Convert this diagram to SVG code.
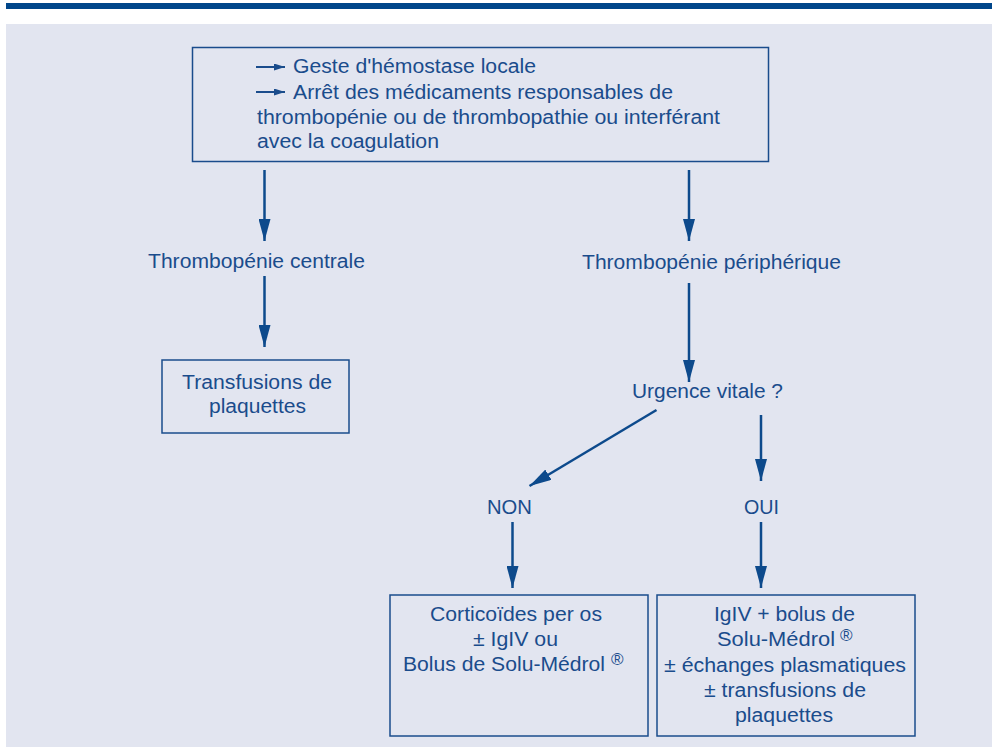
<svg xmlns="http://www.w3.org/2000/svg" width="992" height="747" viewBox="0 0 992 747">
<defs>
<style>
.t{font-family:"Liberation Sans",Arial,sans-serif;font-size:20px;fill:#1a4c8c}
.c{text-anchor:middle}
.b{fill:none;stroke:#1a4c8c;stroke-width:1.5}
.l{stroke:#0d4a8c;stroke-width:2.5;fill:none}
.sup{font-size:17px}
</style>
<marker id="ah" markerWidth="22" markerHeight="12" refX="22" refY="6" orient="auto" markerUnits="userSpaceOnUse" viewBox="0 0 22 12">
<path d="M0,0 L22,6 L0,12 Z" fill="#0d4a8c"/>
</marker>
<marker id="sa" markerWidth="11" markerHeight="7" refX="11" refY="3.5" orient="auto" markerUnits="userSpaceOnUse" viewBox="0 0 11 7">
<path d="M0,0 L11,3.5 L0,7 Z" fill="#1a4c8c"/>
</marker>
</defs>
<rect x="0" y="0" width="992" height="747" fill="#ffffff"/>
<rect x="6" y="3" width="986" height="6" fill="#00468a"/>
<rect x="6" y="24" width="986" height="723" fill="#e2e5f0"/>

<g id="top">
<rect class="b" x="192.5" y="47.5" width="576" height="114"/>
<line x1="256" y1="67" x2="285" y2="67" stroke="#1a4c8c" stroke-width="2" marker-end="url(#sa)"/>
<line x1="256" y1="92" x2="285" y2="92" stroke="#1a4c8c" stroke-width="2" marker-end="url(#sa)"/>
<text class="t" x="293" y="73" textLength="243" lengthAdjust="spacingAndGlyphs">Geste d'hémostase locale</text>
<text class="t" x="293" y="99" textLength="380" lengthAdjust="spacingAndGlyphs">Arrêt des médicaments responsables de</text>
<text class="t" x="257" y="124" textLength="463" lengthAdjust="spacingAndGlyphs">thrombopénie ou de thrombopathie ou interférant</text>
<text class="t" x="257" y="148" textLength="182" lengthAdjust="spacingAndGlyphs">avec la coagulation</text>
</g>

<g id="centrale"><text class="t" x="148" y="268" textLength="217" lengthAdjust="spacingAndGlyphs">Thrombopénie centrale</text></g>
<g id="peripherique"><text class="t" x="582" y="269" textLength="259" lengthAdjust="spacingAndGlyphs">Thrombopénie périphérique</text></g>

<g id="transfusions">
<rect class="b" x="162" y="360" width="187" height="73"/>
<text class="t" x="182" y="389" textLength="150" lengthAdjust="spacingAndGlyphs">Transfusions de</text>
<text class="t" x="209" y="413" textLength="97" lengthAdjust="spacingAndGlyphs">plaquettes</text>
</g>

<g id="urgence"><text class="t" x="632" y="398" textLength="151" lengthAdjust="spacingAndGlyphs">Urgence vitale ?</text></g>
<g id="non"><text class="t" x="487" y="514" textLength="45" lengthAdjust="spacingAndGlyphs">NON</text></g>
<g id="oui"><text class="t" x="744" y="514" textLength="35" lengthAdjust="spacingAndGlyphs">OUI</text></g>

<g id="cortico">
<rect class="b" x="390" y="595" width="258" height="141"/>
<text class="t" x="430" y="621" textLength="172" lengthAdjust="spacingAndGlyphs">Corticoïdes per os</text>
<text class="t" x="473" y="646" textLength="85" lengthAdjust="spacingAndGlyphs">± IgIV ou</text>
<text class="t" x="403" y="671" textLength="202" lengthAdjust="spacingAndGlyphs">Bolus de Solu-Médrol</text>
<text class="t sup" x="611" y="665">®</text>
</g>

<g id="igiv">
<rect class="b" x="657" y="595" width="258" height="141"/>
<text class="t" x="714" y="621" textLength="141" lengthAdjust="spacingAndGlyphs">IgIV + bolus de</text>
<text class="t" x="717" y="646" textLength="118" lengthAdjust="spacingAndGlyphs">Solu-Médrol</text>
<text class="t sup" x="840" y="641">®</text>
<text class="t" x="664" y="672" textLength="242" lengthAdjust="spacingAndGlyphs">± échanges plasmatiques</text>
<text class="t" x="704" y="697" textLength="162" lengthAdjust="spacingAndGlyphs">± transfusions de</text>
<text class="t" x="735" y="722" textLength="98" lengthAdjust="spacingAndGlyphs">plaquettes</text>
</g>

<g id="connectors">
<line class="l" x1="264.5" y1="170" x2="264.5" y2="241" marker-end="url(#ah)"/>
<line class="l" x1="689" y1="170" x2="689" y2="241" marker-end="url(#ah)"/>
<line class="l" x1="264.5" y1="276" x2="264.5" y2="347" marker-end="url(#ah)"/>
<line class="l" x1="689" y1="283" x2="689" y2="382" marker-end="url(#ah)"/>
<line class="l" x1="656.5" y1="410" x2="529.5" y2="486" marker-end="url(#ah)"/>
<line class="l" x1="761" y1="415" x2="761" y2="481" marker-end="url(#ah)"/>
<line class="l" x1="512.5" y1="522" x2="512.5" y2="588" marker-end="url(#ah)"/>
<line class="l" x1="761" y1="522" x2="761" y2="588" marker-end="url(#ah)"/>
</g>
</svg>
